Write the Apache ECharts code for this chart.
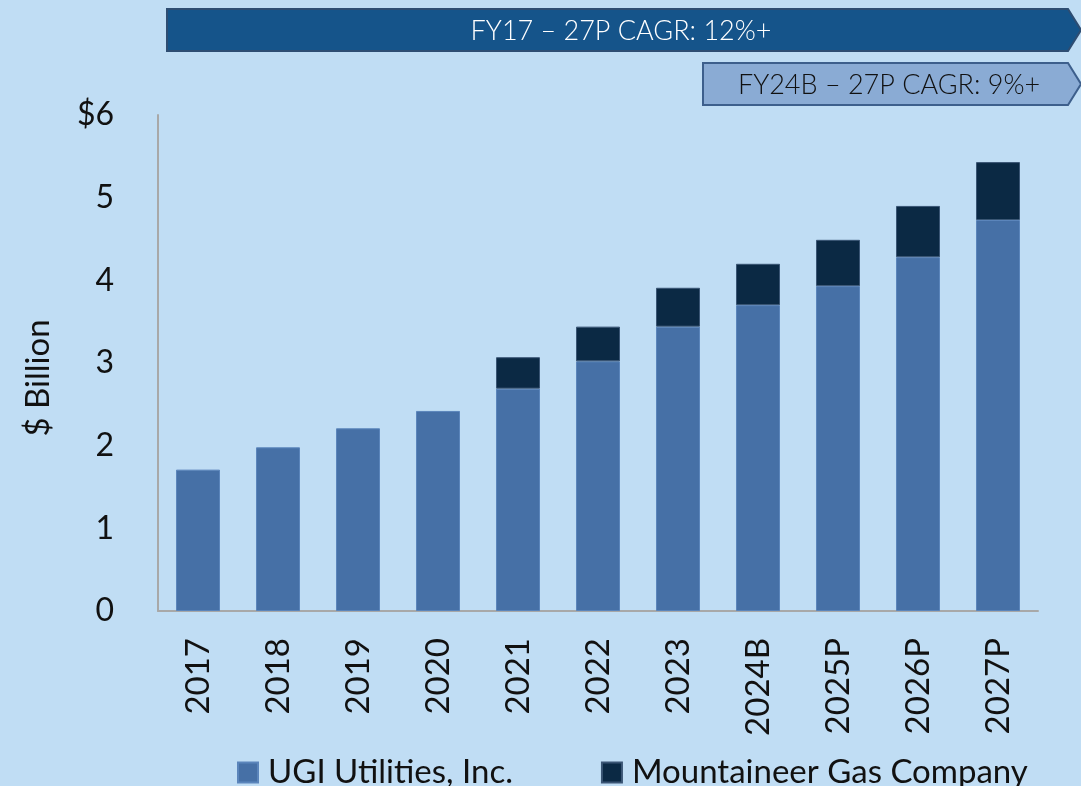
<!DOCTYPE html>
<html>
<head>
<meta charset="utf-8">
<script src="https://cdn.jsdelivr.net/npm/echarts@6/dist/echarts.min.js"></script>
<style>
  html, body { margin: 0; padding: 0; background: #c0ddf4; }
  #main { width: 1081px; height: 786px; }
</style>
</head>
<body>
<div id="main"></div>
<script>
// 数据
const years = ['2017', '2018', '2019', '2020', '2021', '2022', '2023', '2024B', '2025P', '2026P', '2027P'];
const ugiValues = [1.71, 1.98, 2.21, 2.42, 2.69, 3.02, 3.44, 3.70, 3.93, 4.28, 4.73];
const mountaineerValues = [0, 0, 0, 0, 0.38, 0.42, 0.47, 0.50, 0.56, 0.62, 0.70];
const seriesNames = ['UGI Utilities, Inc.', 'Mountaineer Gas Company'];
const bannerTexts = ['FY17 – 27P CAGR: 12%+', 'FY24B – 27P CAGR: 9%+'];

const myChart = echarts.init(document.getElementById('main'));
const font = 'Lato, "Open Sans", sans-serif';

const option = {
  backgroundColor: '#c0ddf4',
  textStyle: { fontFamily: font },
  grid: { left: 158, right: 43, top: 115, bottom: 175 },
  // 顶部箭头横幅
  graphic: [
    {
      type: 'polygon',
      shape: { points: [[167, 9], [1068, 9], [1081, 30], [1068, 51], [167, 51]] },
      style: { fill: '#15548a', stroke: '#2e4d72', lineWidth: 2 }
    },
    {
      type: 'text',
      x: 621, y: 31,
      style: { text: bannerTexts[0], fill: '#ffffff', font: '300 27px ' + font, textAlign: 'center', textVerticalAlign: 'middle' }
    },
    {
      type: 'polygon',
      shape: { points: [[703, 63], [1068, 63], [1081, 84], [1068, 105], [703, 105]] },
      style: { fill: '#8aabd4', stroke: '#3d5f8c', lineWidth: 2 }
    },
    {
      type: 'text',
      x: 889, y: 85,
      style: { text: bannerTexts[1], fill: '#111111', font: '300 27px ' + font, textAlign: 'center', textVerticalAlign: 'middle' }
    }
  ],
  legend: {
    data: seriesNames,
    left: 232,
    top: 751,
    itemWidth: 20,
    itemHeight: 20,
    itemGap: 88,
    icon: 'rect',
    textStyle: { fontSize: 33, color: '#111', fontFamily: font, padding: [0, 0, 0, 5] }
  },
  xAxis: {
    type: 'category',
    data: years,
    axisLine: { lineStyle: { color: '#a8a8a8', width: 2 } },
    axisTick: { show: false },
    axisLabel: { rotate: 90, fontSize: 33, color: '#111', margin: 27 }
  },
  yAxis: {
    type: 'value',
    min: 0,
    max: 6,
    interval: 1,
    name: '$ Billion',
    nameLocation: 'middle',
    nameGap: 103,
    nameRotate: 90,
    nameTextStyle: { fontSize: 33, color: '#111', padding: [0, 30, 0, 0] },
    axisLine: { show: true, lineStyle: { color: '#a8a8a8', width: 2 } },
    axisTick: { show: false },
    splitLine: { show: false },
    axisLabel: {
      fontSize: 32, color: '#111', margin: 44,
      formatter: function (v) { return v === 6 ? '$6' : v; }
    }
  },
  series: [
    {
      name: seriesNames[0],
      type: 'bar',
      stack: 'total',
      barWidth: '55%',
      data: ugiValues,
      itemStyle: { color: '#4670a6', borderColor: '#5b85bb', borderWidth: 1 }
    },
    {
      name: seriesNames[1],
      type: 'bar',
      stack: 'total',
      barWidth: '55%',
      data: mountaineerValues.map(v => v === 0 ? null : v),
      itemStyle: { color: '#0b2944', borderColor: '#3a5574', borderWidth: 1 }
    }
  ]
};
myChart.setOption(option);
</script>
</body>
</html>
